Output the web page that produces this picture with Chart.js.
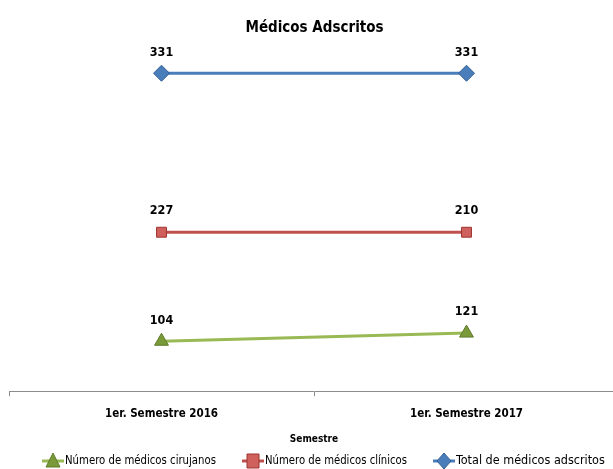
<!DOCTYPE html>
<html><head><meta charset="utf-8">
<script src="https://cdn.jsdelivr.net/npm/chart.js@4/dist/chart.umd.min.js"></script>
<style>html,body{margin:0;padding:0;background:#fff;overflow:hidden}#wrap{width:613px;height:469px;overflow:hidden;position:relative}canvas{display:block}</style>
</head><body><div id="wrap"><canvas id="c" width="628" height="469"></canvas></div>
<script>
const categories = ['1er. Semestre 2016', '1er. Semestre 2017'];
const cirujanos = [104, 121];
const clinicos = [227, 210];
const total = [331, 331];
const seriesNames = ['Número de médicos cirujanos', 'Número de médicos clínicos', 'Total de médicos adscritos'];
const FONT = '"Liberation Sans Narrow", "Arial Narrow", "DejaVu Sans Condensed", sans-serif';

const labelPlugin = {
  id: 'vals',
  afterDatasetsDraw(chart) {
    const ctx = chart.ctx;
    ctx.save();
    ctx.font = 'bold 12.5px ' + FONT;
    ctx.fillStyle = '#000';
    ctx.textAlign = 'center';
    ctx.textBaseline = 'middle';
    chart.data.datasets.forEach((ds, di) => {
      chart.getDatasetMeta(di).data.forEach((pt, i) => {
        ctx.fillText(String(ds.data[i]), pt.x, pt.y - 21);
      });
    });
    ctx.restore();
  }
};

const legendPlugin = {
  id: 'xlegend',
  afterDraw(chart) {
    const ctx = chart.ctx;
    ctx.save();
    ctx.font = '12.5px ' + FONT;
    ctx.textBaseline = 'middle';
    const y = 461;
    const starts = [42, 242, 433];
    const textW = [151, 142, 151];
    chart.data.datasets.forEach((ds, di) => {
      const x0 = starts[di];
      ctx.strokeStyle = ds.borderColor;
      ctx.lineWidth = 3;
      ctx.beginPath(); ctx.moveTo(x0, y); ctx.lineTo(x0 + 22, y); ctx.stroke();
      const cx = x0 + 11;
      ctx.fillStyle = ds.pointBackgroundColor;
      ctx.strokeStyle = ds.pointBorderColor;
      ctx.lineWidth = 1;
      ctx.beginPath();
      if (ds.pointStyle === 'triangle') { ctx.moveTo(cx, y - 8); ctx.lineTo(cx + 7, y + 6); ctx.lineTo(cx - 7, y + 6); ctx.closePath(); }
      else if (ds.pointStyle === 'rect') { ctx.rect(cx - 6, y - 7, 12, 14); }
      else { ctx.moveTo(cx, y - 8); ctx.lineTo(cx + 7, y); ctx.lineTo(cx, y + 8); ctx.lineTo(cx - 7, y); ctx.closePath(); }
      ctx.fill(); ctx.stroke();
      ctx.fillStyle = '#000';
      ctx.textAlign = 'left';
      const w = ctx.measureText(ds.label).width;
      const sx = Math.min(1, textW[di] / w);
      ctx.save();
      ctx.translate(x0 + 23, y);
      ctx.scale(sx, 1);
      ctx.fillText(ds.label, 0, 0);
      ctx.restore();
    });
    ctx.restore();
  }
};

new Chart(document.getElementById('c'), {
  type: 'line',
  data: {
    labels: categories,
    datasets: [
      { label: seriesNames[0], data: cirujanos, borderColor: '#98b954', backgroundColor: '#98b954', borderWidth: 3,
        pointStyle: 'triangle', pointRadius: 8, pointBackgroundColor: '#7a9a3a', pointBorderColor: '#5e7a2a', pointBorderWidth: 1, fill: false },
      { label: seriesNames[1], data: clinicos, borderColor: '#c0504d', backgroundColor: '#c0504d', borderWidth: 3,
        pointStyle: 'rect', pointRadius: 7, pointBackgroundColor: '#d0605c', pointBorderColor: '#9c3532', pointBorderWidth: 1, fill: false },
      { label: seriesNames[2], data: total, borderColor: '#4a7ebb', backgroundColor: '#4a7ebb', borderWidth: 3,
        pointStyle: 'rectRot', pointRadius: 8, pointBackgroundColor: '#4a7ebb', pointBorderColor: '#335f94', pointBorderWidth: 1, fill: false }
    ]
  },
  options: {
    responsive: false,
    animation: false,
    layout: { padding: { left: 9, right: 8, top: 0, bottom: 24 } },
    plugins: {
      legend: { display: false },
      tooltip: { enabled: false },
      title: { display: true, text: 'Médicos Adscritos', color: '#000', font: { family: FONT, size: 15, weight: 'bold' }, padding: { top: 19, bottom: 18 } }
    },
    scales: {
      y: { display: false, stacked: true, min: 0, max: 700 },
      x: {
        offset: true,
        grid: { display: true, offset: true, drawOnChartArea: false, drawTicks: true, tickLength: 5, color: '#8c8c8c' },
        border: { display: true, color: '#8c8c8c', width: 1 },
        ticks: { color: '#000', font: { family: FONT, size: 11.5, weight: 'bold' }, padding: 11, maxRotation: 0 },
        title: { display: true, text: 'Semestre', color: '#000', font: { family: FONT, size: 10, weight: 'bold' }, padding: { top: 1, bottom: 0 } }
      }
    }
  },
  plugins: [labelPlugin, legendPlugin]
});
</script></body></html>
